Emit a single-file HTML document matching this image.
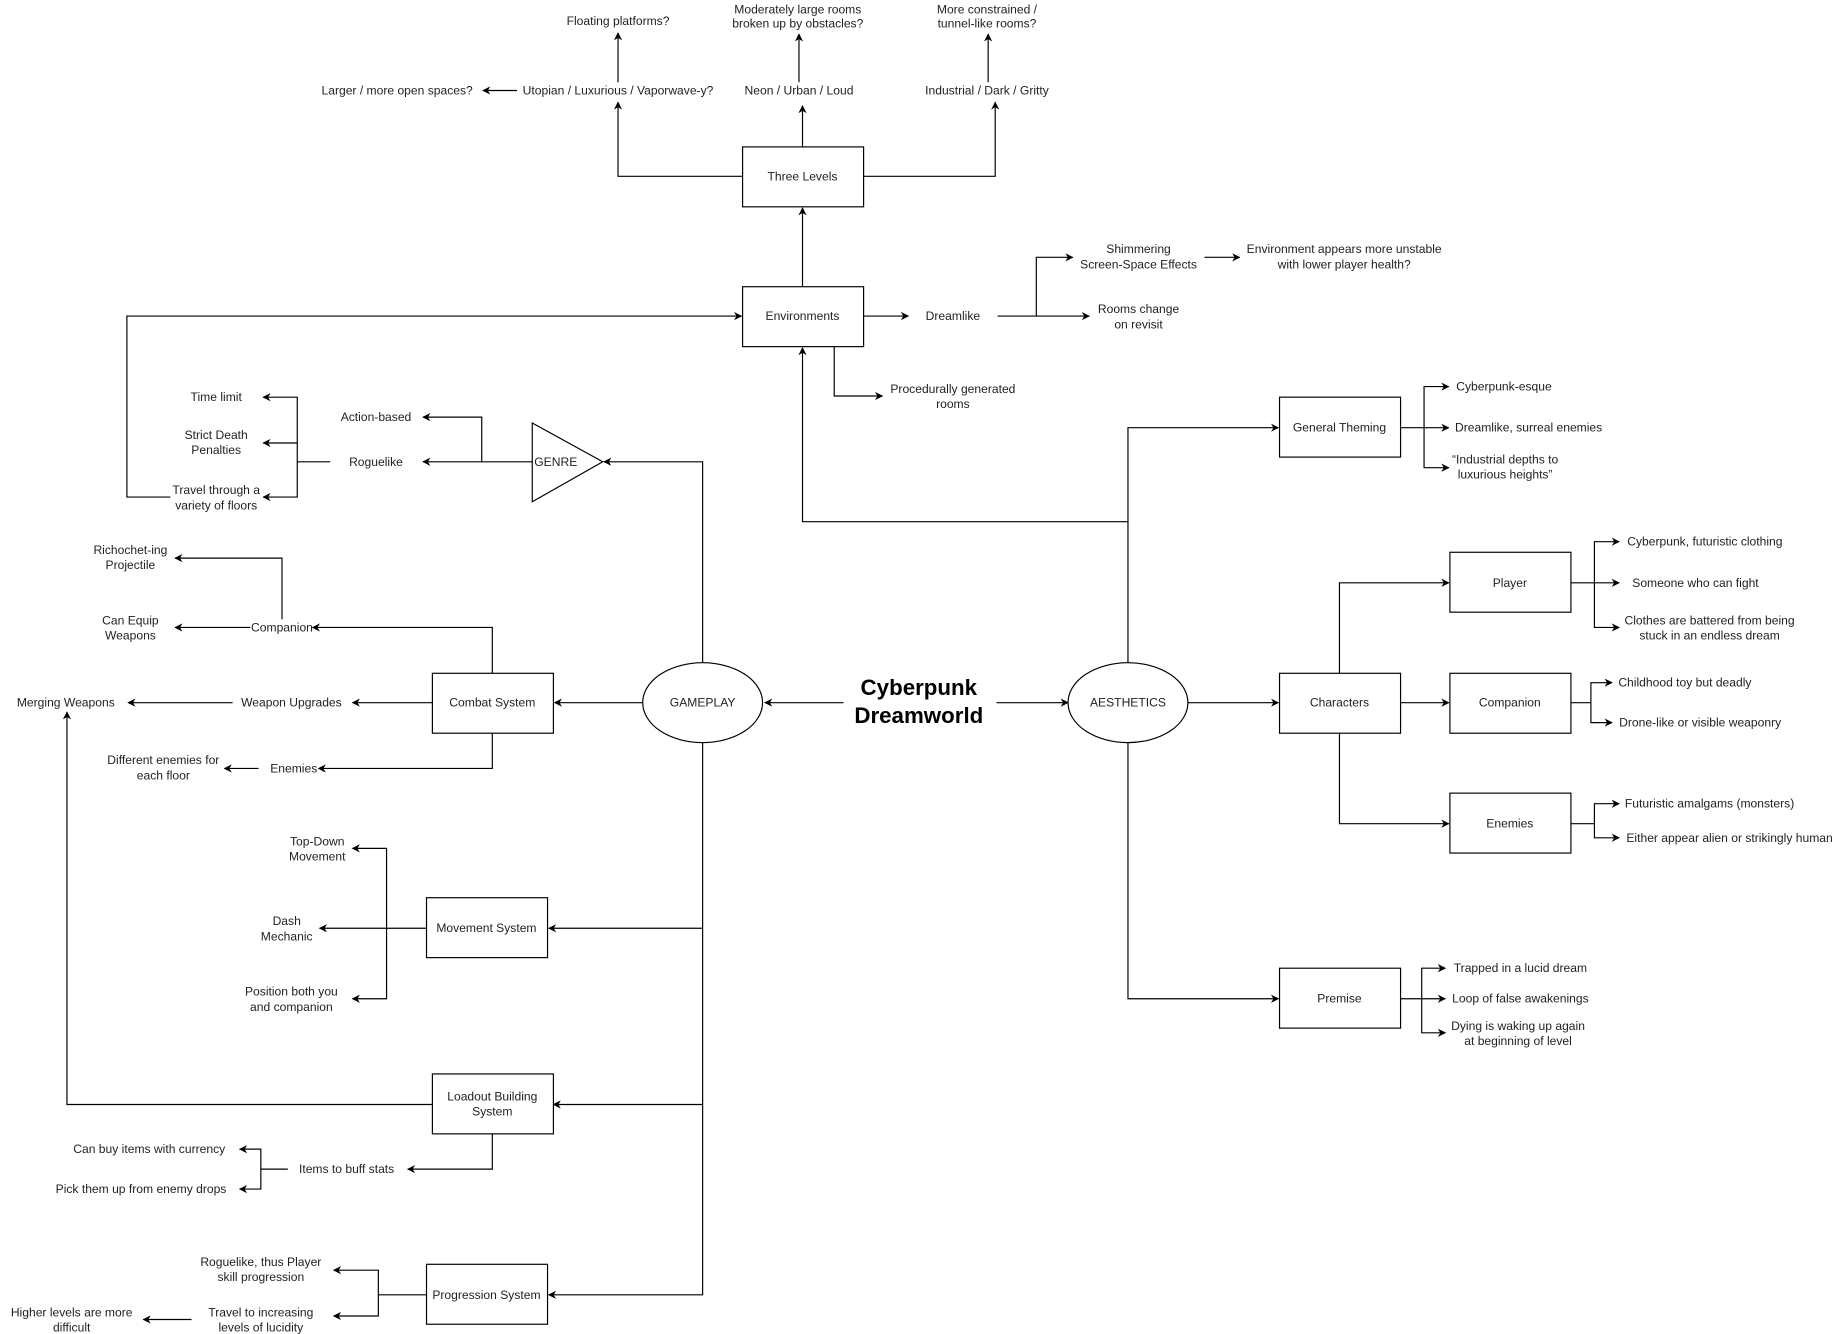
<!DOCTYPE html>
<html><head><meta charset="utf-8"><style>
html,body{margin:0;padding:0;background:#fff;}
svg{display:block;}
text{font-family:"Liberation Sans",Arial,sans-serif;font-size:10.3px;fill:#222;text-anchor:middle;dominant-baseline:central;}
.t{font-size:19px;font-weight:bold;fill:#000;}
line,path,polyline{stroke:#000;stroke-width:1;fill:none;}
rect,ellipse,polygon.s{stroke:#000;stroke-width:1;fill:#fff;}
</style></head><body>
<svg width="1838" height="1334" viewBox="0 0 1564.3 1135.3" xmlns="http://www.w3.org/2000/svg">
<defs><marker id="a" viewBox="0 0 10 10" refX="9" refY="5" markerWidth="7" markerHeight="7" orient="auto" markerUnits="userSpaceOnUse"><path d="M0,0 L10,5 L0,10 L3,5 Z" style="fill:#000;stroke:none"/></marker></defs>
<g marker-end="url(#a)">
<!-- top -->
<path d="M526,70 V28"/><path d="M680,70 V29"/><path d="M841,70 V29"/>
<path d="M440,77 H411"/>
<path d="M632,150 H526 V87"/><path d="M683,125 V90"/><path d="M735,150 H847 V87"/>
<path d="M683,244 V177"/>
<path d="M735,269 H773"/>
<path d="M849,269 H927"/><path d="M882,269 V219 H913"/><path d="M1025,219 H1055"/>
<path d="M710,295 V337 H751"/>
<path d="M145,423 H108 V269 H631"/>
<path d="M960,565 V444 H683 V296"/>
<path d="M960,444 V364 H1088"/>
<!-- genre -->
<path d="M598,565 V393 H514"/>
<path d="M453,393 H360"/><path d="M410,393 V355 H360"/>
<path d="M281,393 H253 V338 H224"/><path d="M253,377 H224"/><path d="M253,393 V423 H224"/>
<!-- center -->
<path d="M547,598 H472"/><path d="M718,598 H651"/><path d="M848,598 H909"/>
<!-- combat -->
<path d="M368,598 H300"/><path d="M198,598 H109"/>
<path d="M419,573 V534 H266"/><path d="M213,534 H149"/><path d="M240,527 V475 H149"/>
<path d="M419,624 V654 H271"/><path d="M220,654 H191"/>
<!-- gameplay down -->
<path d="M598,632 V1102 H467"/><path d="M598,790 H467"/><path d="M598,940 H471"/>
<path d="M363,790 H272"/><path d="M329,790 V722 H300"/><path d="M329,790 V850 H300"/>
<path d="M368,940 H57 V606"/>
<path d="M419,965 V995 H347"/><path d="M245,995 H222 V978 H204"/><path d="M222,995 V1012 H204"/>
<path d="M363,1102 H322 V1081 H284"/><path d="M322,1102 V1120 H284"/><path d="M163,1123 H122"/>
<!-- right -->
<path d="M1011,598 H1088"/>
<path d="M1191,364 H1233"/><path d="M1212,364 V329 H1233"/><path d="M1212,364 V398 H1233"/>
<path d="M1191,598 H1233"/><path d="M1140,573 V496 H1233"/><path d="M1140,624 V701 H1233"/>
<path d="M1336,496 H1378"/><path d="M1357,496 V461 H1378"/><path d="M1357,496 V534 H1378"/>
<path d="M1336,598 H1354 V581 H1372"/><path d="M1354,598 V615 H1372"/>
<path d="M1336,701 H1357 V684 H1378"/><path d="M1357,701 V713 H1378"/>
<path d="M960,632 V850 H1088"/>
<path d="M1191,850 H1230"/><path d="M1210,850 V824 H1230"/><path d="M1210,850 V879 H1230"/>
</g>
<!-- shapes -->
<rect x="632" y="125" width="103" height="51"/><text x="683" y="150">Three Levels</text>
<rect x="632" y="244" width="103" height="51"/><text x="683" y="269">Environments</text>
<polygon class="s" points="453,360 453,427 513,393"/><text x="473" y="393">GENRE</text>
<ellipse cx="598" cy="598" rx="51" ry="34"/><text x="598" y="598">GAMEPLAY</text>
<ellipse cx="960" cy="598" rx="51" ry="34"/><text x="960" y="598">AESTHETICS</text>
<rect x="368" y="573" width="103" height="51"/><text x="419" y="598">Combat System</text>
<rect x="363" y="764" width="103" height="51"/><text x="414" y="790">Movement System</text>
<rect x="368" y="914" width="103" height="51"/><text x="419" y="933">Loadout Building</text><text x="419" y="946">System</text>
<rect x="363" y="1076" width="103" height="51"/><text x="414" y="1102">Progression System</text>
<rect x="1089" y="338" width="103" height="51"/><text x="1140" y="364">General Theming</text>
<rect x="1089" y="573" width="103" height="51"/><text x="1140" y="598">Characters</text>
<rect x="1234" y="470" width="103" height="51"/><text x="1285" y="496">Player</text>
<rect x="1234" y="573" width="103" height="51"/><text x="1285" y="598">Companion</text>
<rect x="1234" y="675" width="103" height="51"/><text x="1285" y="701">Enemies</text>
<rect x="1089" y="824" width="103" height="51"/><text x="1140" y="850">Premise</text>
<!-- labels -->
<text class="t" x="782" y="585">Cyberpunk</text><text class="t" x="782" y="609">Dreamworld</text>
<text x="526" y="18">Floating platforms?</text>
<text x="679" y="8">Moderately large rooms</text><text x="679" y="20">broken up by obstacles?</text>
<text x="840" y="8">More constrained /</text><text x="840" y="20">tunnel-like rooms?</text>
<text x="338" y="77">Larger / more open spaces?</text>
<text x="526" y="77">Utopian / Luxurious / Vaporwave-y?</text>
<text x="680" y="77">Neon / Urban / Loud</text>
<text x="840" y="77">Industrial / Dark / Gritty</text>
<text x="811" y="269">Dreamlike</text>
<text x="969" y="212">Shimmering</text><text x="969" y="225">Screen-Space Effects</text>
<text x="1144" y="212">Environment appears more unstable</text><text x="1144" y="225">with lower player health?</text>
<text x="969" y="263">Rooms change</text><text x="969" y="276">on revisit</text>
<text x="811" y="331">Procedurally generated</text><text x="811" y="344">rooms</text>
<text x="320" y="355">Action-based</text><text x="320" y="393">Roguelike</text>
<text x="184" y="338">Time limit</text>
<text x="184" y="370">Strict Death</text><text x="184" y="383">Penalties</text>
<text x="184" y="417">Travel through a</text><text x="184" y="430">variety of floors</text>
<text x="111" y="468">Richochet-ing</text><text x="111" y="481">Projectile</text>
<text x="111" y="528">Can Equip</text><text x="111" y="541">Weapons</text>
<text x="240" y="534">Companion</text>
<text x="248" y="598">Weapon Upgrades</text><text x="56" y="598">Merging Weapons</text>
<text x="250" y="654">Enemies</text>
<text x="139" y="647">Different enemies for</text><text x="139" y="660">each floor</text>
<text x="270" y="716">Top-Down</text><text x="270" y="729">Movement</text>
<text x="244" y="784">Dash</text><text x="244" y="797">Mechanic</text>
<text x="248" y="844">Position both you</text><text x="248" y="857">and companion</text>
<text x="295" y="995">Items to buff stats</text>
<text x="127" y="978">Can buy items with currency</text>
<text x="120" y="1012">Pick them up from enemy drops</text>
<text x="222" y="1074">Roguelike, thus Player</text><text x="222" y="1087">skill progression</text>
<text x="222" y="1117">Travel to increasing</text><text x="222" y="1130">levels of lucidity</text>
<text x="61" y="1117">Higher levels are more</text><text x="61" y="1130">difficult</text>
<text x="1280" y="329">Cyberpunk-esque</text>
<text x="1301" y="364">Dreamlike, surreal enemies</text>
<text x="1281" y="391">“Industrial depths to</text><text x="1281" y="404">luxurious heights”</text>
<text x="1451" y="461">Cyberpunk, futuristic clothing</text>
<text x="1443" y="496">Someone who can fight</text>
<text x="1455" y="528">Clothes are battered from being</text><text x="1455" y="541">stuck in an endless dream</text>
<text x="1434" y="581">Childhood toy but deadly</text>
<text x="1447" y="615">Drone-like or visible weaponry</text>
<text x="1455" y="684">Futuristic amalgams (monsters)</text>
<text x="1472" y="713">Either appear alien or strikingly human</text>
<text x="1294" y="824">Trapped in a lucid dream</text>
<text x="1294" y="850">Loop of false awakenings</text>
<text x="1292" y="873">Dying is waking up again</text><text x="1292" y="886">at beginning of level</text>
</svg>
</body></html>
